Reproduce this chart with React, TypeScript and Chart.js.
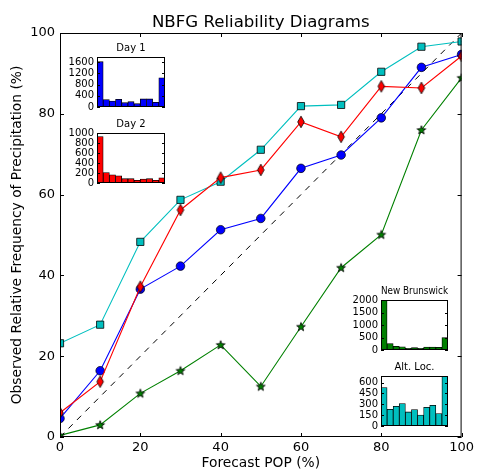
import React, { useEffect, useRef } from 'react';
import { Chart, registerables } from 'chart.js';

Chart.register(...registerables);

// ---- data ----
const popBins = [0, 10, 20, 30, 40, 50, 60, 70, 80, 90, 100];
const day1Rel = [4.6, 16.4, 36.6, 42.3, 51.3, 54.1, 66.5, 69.8, 79.0, 91.5, 94.7];
const day2Rel = [6.0, 13.7, 37.2, 56.2, 64.2, 66.1, 78.0, 74.3, 86.8, 86.4, 94.3];
const nbRel = [0.4, 3.0, 10.8, 16.4, 22.8, 12.5, 27.3, 41.9, 50.1, 76.0, 88.9];
const altRel = [23.2, 27.8, 48.3, 58.7, 63.2, 71.1, 81.9, 82.2, 90.4, 96.6, 97.9];
const perfectLine = [0, 100];

const histBins = ['0', '10', '20', '30', '40', '50', '60', '70', '80', '90', '100'];
const day1Counts = [1614, 262, 215, 272, 154, 190, 118, 287, 287, 165, 1040];
const day2Counts = [928, 210, 164, 145, 86, 86, 53, 79, 86, 53, 105];
const nbCounts = [2000, 261, 144, 131, 65, 92, 65, 118, 118, 105, 497];
const altCounts = [531, 231, 272, 309, 194, 226, 152, 258, 286, 171, 690];

const mainTitle = 'NBFG Reliability Diagrams';
const xTitle = 'Forecast POP (%)';
const yTitle = 'Observed Relative Frequency of Precipitation (%)';

const FONT = "'DejaVu Sans', sans-serif";

function pts(vals: number[]) {
  return vals.map((v, i) => ({ x: popBins[i], y: v }));
}

function makeDiamond(color: string) {
  const c = document.createElement('canvas');
  c.width = 10; c.height = 14;
  const g = c.getContext('2d')!;
  const cx = 5, cy = 7, hw = 3.3, hh = 5.8;
  g.beginPath();
  g.moveTo(cx, cy - hh); g.lineTo(cx + hw, cy); g.lineTo(cx, cy + hh); g.lineTo(cx - hw, cy); g.closePath();
  g.fillStyle = color; g.fill();
  g.lineWidth = 0.8; g.strokeStyle = '#000'; g.stroke();
  return c;
}

function makeStar(color: string) {
  const c = document.createElement('canvas');
  c.width = 12; c.height = 12;
  const g = c.getContext('2d')!;
  const cx = 6, cy = 6.3, R = 4.6, r = 1.9;
  g.beginPath();
  for (let i = 0; i < 10; i++) {
    const ang = -Math.PI / 2 + (i * Math.PI) / 5;
    const rad = i % 2 === 0 ? R : r;
    const x = cx + rad * Math.cos(ang), y = cy + rad * Math.sin(ang);
    if (i === 0) g.moveTo(x, y); else g.lineTo(x, y);
  }
  g.closePath();
  g.fillStyle = color; g.fill();
  g.lineWidth = 0.8; g.strokeStyle = '#000'; g.stroke();
  return c;
}

const mainFrame = {
  id: 'mainFrame',
  afterDraw(chart: any) {
    const { ctx, chartArea: a, scales } = chart;
    ctx.save();
    ctx.strokeStyle = '#000';
    ctx.lineWidth = 1;
    ctx.strokeRect(a.left + 0.5, a.top + 0.5, a.right - a.left - 1, a.bottom - a.top - 1);
    const L = 4;
    ctx.beginPath();
    scales.x.ticks.forEach((t: any) => {
      const px = Math.round(scales.x.getPixelForValue(t.value)) + 0.5;
      ctx.moveTo(px, a.bottom); ctx.lineTo(px, a.bottom - L);
      ctx.moveTo(px, a.top); ctx.lineTo(px, a.top + L);
    });
    scales.y.ticks.forEach((t: any) => {
      const py = Math.round(scales.y.getPixelForValue(t.value)) + 0.5;
      ctx.moveTo(a.left, py); ctx.lineTo(a.left + L, py);
      ctx.moveTo(a.right, py); ctx.lineTo(a.right - L, py);
    });
    ctx.stroke();
    ctx.restore();
  },
};

const insetFrame = {
  id: 'insetFrame',
  beforeDatasetsDraw(chart: any) {
    const { ctx, chartArea: a } = chart;
    ctx.save();
    ctx.fillStyle = '#fff';
    ctx.fillRect(a.left, a.top, a.right - a.left, a.bottom - a.top);
    ctx.restore();
  },
  afterDraw(chart: any) {
    const { ctx, chartArea: a, scales } = chart;
    ctx.save();
    ctx.strokeStyle = '#000';
    ctx.lineWidth = 1;
    ctx.strokeRect(a.left + 0.5, a.top + 0.5, a.right - a.left - 1, a.bottom - a.top - 1);
    const L = 3;
    ctx.beginPath();
    scales.y.ticks.forEach((t: any) => {
      const py = Math.round(scales.y.getPixelForValue(t.value)) + 0.5;
      ctx.moveTo(a.left, py); ctx.lineTo(a.left + L, py);
      ctx.moveTo(a.right, py); ctx.lineTo(a.right - L, py);
    });
    ctx.stroke();
    ctx.restore();
  },
};

type InsetSpec = {
  title: string; counts: number[]; color: string; max: number; step: number;
  L: number; T: number; W: number; H: number;
};

const insets: InsetSpec[] = [
  { title: 'Day 1', counts: day1Counts, color: '#0000ff', max: 1780, step: 400, L: 97, T: 57, W: 68, H: 51 },
  { title: 'Day 2', counts: day2Counts, color: '#ff0000', max: 1000, step: 200, L: 97, T: 133, W: 68, H: 51 },
  { title: 'New Brunswick', counts: nbCounts, color: '#008000', max: 2000, step: 500, L: 381, T: 300, W: 67, H: 51 },
  { title: 'Alt. Loc.', counts: altCounts, color: '#00bfbf', max: 690, step: 150, L: 381, T: 376, W: 67, H: 51 },
];

const YW = 38, TOPH = 16, PR = 3, PB = 8;
const INSET_FS = 10;

function Inset({ spec }: { spec: InsetSpec }) {
  const ref = useRef<HTMLCanvasElement>(null);
  useEffect(() => {
    const chart = new Chart(ref.current!, {
      type: 'bar',
      data: {
        labels: histBins,
        datasets: [{
          data: spec.counts,
          backgroundColor: spec.color,
          borderColor: '#000',
          borderWidth: 0.8,
          borderSkipped: false,
          categoryPercentage: 1,
          barPercentage: 1,
        } as any],
      },
      options: {
        animation: false,
        responsive: false,
        events: [],
        layout: { padding: { left: 0, top: 0, right: PR, bottom: PB } },
        plugins: {
          legend: { display: false },
          tooltip: { enabled: false },
          title: {
            display: true, text: spec.title, fullSize: false, color: '#000',
            font: { family: FONT, size: INSET_FS, weight: 'normal', lineHeight: 1.2 },
            padding: { top: 1.0, bottom: TOPH - INSET_FS * 1.2 - 1.0 },
          },
        },
        scales: {
          x: { display: false, grid: { display: false } },
          y: {
            min: 0, max: spec.max,
            ticks: {
              stepSize: spec.step, includeBounds: false, autoSkip: false, padding: 3, color: '#000',
              font: { family: FONT, size: INSET_FS },
              callback: (v: any) => String(v),
            },
            grid: { display: false, drawTicks: false },
            border: { display: false },
            afterFit: (s: any) => { s.width = YW; },
          },
        },
      } as any,
      plugins: [insetFrame],
    });
    return () => chart.destroy();
  }, []);
  const w = spec.W + YW + PR, h = spec.H + TOPH + PB;
  return (
    <canvas ref={ref} width={w} height={h}
      style={{ position: 'absolute', left: spec.L - YW, top: spec.T - TOPH, width: w, height: h }} />
  );
}

export default function App() {
  const ref = useRef<HTMLCanvasElement>(null);
  useEffect(() => {
    const diamond = makeDiamond('#ff0000');
    const star = makeStar('#008000');
    const chart = new Chart(ref.current!, {
      type: 'line',
      data: {
        datasets: [
          {
            label: 'Day 2', data: pts(day2Rel), borderColor: '#ff0000', borderWidth: 1.1,
            pointStyle: diamond, pointRadius: 6, order: 1, clip: 0,
          },
          {
            label: 'Day 1', data: pts(day1Rel), borderColor: '#0000ff', borderWidth: 1.1,
            pointStyle: 'circle', pointRadius: 4.3, pointBackgroundColor: '#0000ff',
            pointBorderColor: '#000', pointBorderWidth: 0.7, order: 2, clip: 0,
          },
          {
            label: 'New Brunswick', data: pts(nbRel), borderColor: '#008000', borderWidth: 1.1,
            pointStyle: star, pointRadius: 6, order: 3, clip: 0,
          },
          {
            label: 'Alt. Loc.', data: pts(altRel), borderColor: '#00bfbf', borderWidth: 1.1,
            pointStyle: 'rect', pointRadius: 5.1, pointBackgroundColor: '#00bfbf',
            pointBorderColor: '#000', pointBorderWidth: 0.8, order: 4, clip: 0,
          },
          {
            label: 'Perfect', data: perfectLine.map((v) => ({ x: v, y: v })), borderColor: '#000',
            borderWidth: 1, borderDash: [6, 6], pointRadius: 0, order: 5, clip: 0,
          },
        ] as any,
      },
      options: {
        animation: false,
        responsive: false,
        events: [],
        layout: { padding: { left: 0, top: 0, right: 15, bottom: 0 } },
        plugins: {
          legend: { display: false },
          tooltip: { enabled: false },
          title: {
            display: true, text: mainTitle, fullSize: false, color: '#000',
            font: { family: FONT, size: 16.6, weight: 'normal', lineHeight: 1.2 },
            padding: { top: 33 - 16.6 * 1.2, bottom: 0 },
          },
        },
        scales: {
          x: {
            type: 'linear', min: 0, max: 100,
            ticks: { stepSize: 20, padding: 3, maxRotation: 0, color: '#000', font: { family: FONT, size: 13 } },
            grid: { display: false, drawTicks: false },
            border: { display: false },
            title: {
              display: true, text: xTitle, color: '#000',
              font: { family: FONT, size: 13.8, lineHeight: 1 }, padding: { top: 0, bottom: 0 },
            },
            afterFit: (s: any) => { s.height = 33; },
          },
          y: {
            type: 'linear', min: 0, max: 100,
            ticks: { stepSize: 20, padding: 5, color: '#000', font: { family: FONT, size: 13 } },
            grid: { display: false, drawTicks: false },
            border: { display: false },
            title: {
              display: true, text: yTitle, color: '#000',
              font: { family: FONT, size: 13.8, lineHeight: 1 }, padding: { top: 11, bottom: 0 },
            },
            afterFit: (s: any) => { s.width = 60; },
          },
        },
      } as any,
      plugins: [mainFrame],
    });
    return () => chart.destroy();
  }, []);
  return (
    <div style={{ position: 'absolute', left: 0, top: 0, width: 477, height: 470, background: '#fff' }}>
      <canvas ref={ref} width={477} height={470}
        style={{ position: 'absolute', left: 0, top: 0, width: 477, height: 470 }} />
      {insets.map((s) => <Inset key={s.title} spec={s} />)}
    </div>
  );
}
